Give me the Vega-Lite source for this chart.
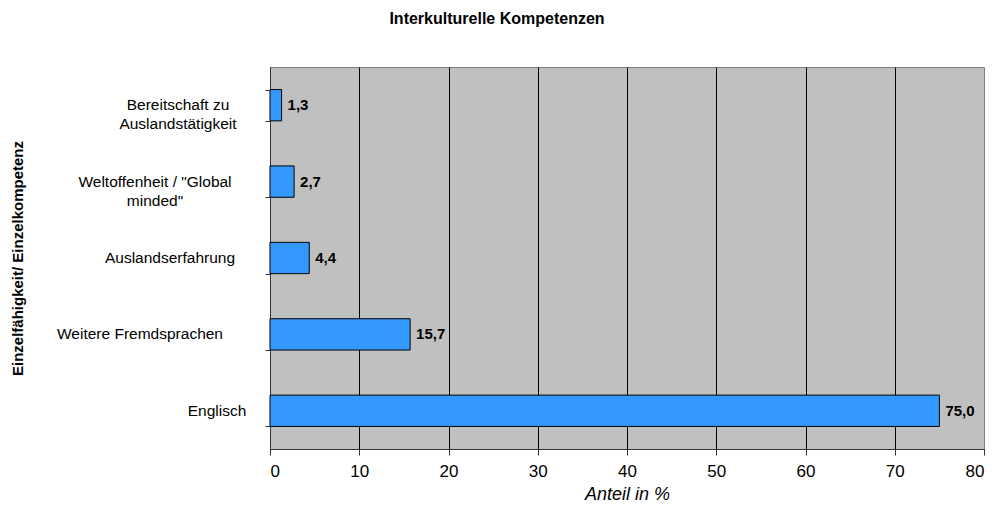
{
  "$schema": "https://vega.github.io/schema/vega-lite/v6.json",
  "width": 714,
  "height": 382,
  "autosize": "none",
  "padding": {"left": 270, "top": 67, "right": 14, "bottom": 64},
  "background": "white",
  "config": {
    "view": {"fill": "#C0C0C0", "stroke": "#808080", "strokeWidth": 1},
    "font": "Liberation Sans",
    "locale": {"number": {"decimal": ",", "thousands": ".", "grouping": [3], "currency": ["", " €"]}}
  },
  "title": {
    "text": "Interkulturelle Kompetenzen",
    "font": "Liberation Sans",
    "fontSize": 16,
    "fontWeight": "bold",
    "color": "black",
    "anchor": "middle",
    "dx": -130,
    "offset": 40
  },
  "data": {
    "values": [
      {"kompetenz": "Bereitschaft zu Auslandstätigkeit", "anteil": 1.3},
      {"kompetenz": "Weltoffenheit / \"Global minded\"", "anteil": 2.7},
      {"kompetenz": "Auslandserfahrung", "anteil": 4.4},
      {"kompetenz": "Weitere Fremdsprachen", "anteil": 15.7},
      {"kompetenz": "Englisch", "anteil": 75.0}
    ]
  },
  "encoding": {
    "y": {
      "field": "kompetenz",
      "type": "nominal",
      "sort": null,
      "scale": {"paddingInner": 0.59, "paddingOuter": 0.295},
      "axis": {
        "title": "Einzelfähigkeit/ Einzelkompetenz",
        "titleFont": "Liberation Sans",
        "titleFontSize": 15,
        "titleFontWeight": "bold",
        "titleColor": "black",
        "titleX": -253,
        "titleBaseline": "middle",
        "tickBand": "extent",
        "grid": false,
        "domainColor": "#333333",
        "tickColor": "#333333",
        "tickSize": 5,
        "labels": false
      }
    }
  },
  "layer": [
    {
      "mark": {"type": "bar", "color": "#3399FF", "stroke": "black", "strokeWidth": 1},
      "encoding": {
        "x": {
          "field": "anteil",
          "type": "quantitative",
          "scale": {"domain": [0, 80], "nice": false},
          "axis": {
            "title": "Anteil in %",
            "titleFont": "Liberation Sans",
            "titleFontSize": 18,
            "titleFontStyle": "italic",
            "titleFontWeight": "normal",
            "titleColor": "black",
            "titlePadding": 6,
            "values": [0, 10, 20, 30, 40, 50, 60, 70, 80],
            "format": "d",
            "labelFontSize": 17,
            "labelColor": "black",
            "labelPadding": 8,
            "tickSize": 6,
            "tickColor": "#333333",
            "domainColor": "#333333",
            "grid": true,
            "gridColor": {"condition": {"test": "datum.value == 80", "value": "#808080"}, "value": "black"},
            "gridOpacity": 1
          }
        }
      }
    },
    {
      "mark": {"type": "text", "align": "left", "dx": 6, "fontWeight": "bold", "fontSize": 15, "color": "black", "font": "Liberation Sans"},
      "encoding": {
        "x": {"field": "anteil", "type": "quantitative"},
        "text": {"field": "anteil", "type": "quantitative", "format": ".1f"}
      }
    },
    {
      "transform": [{"filter": "datum.kompetenz == 'Bereitschaft zu Auslandstätigkeit'"}],
      "mark": {"type": "text", "align": "center", "baseline": "middle", "dx": -92, "fontSize": 15.5, "lineHeight": 19, "color": "black", "font": "Liberation Sans"},
      "encoding": {
        "x": {"datum": 0, "type": "quantitative"},
        "text": {"value": ["Bereitschaft zu", "Auslandstätigkeit"]}
      }
    },
    {
      "transform": [{"filter": "datum.kompetenz == 'Weltoffenheit / \"Global minded\"'"}],
      "mark": {"type": "text", "align": "center", "baseline": "middle", "dx": -115, "fontSize": 15.5, "lineHeight": 19, "color": "black", "font": "Liberation Sans"},
      "encoding": {
        "x": {"datum": 0, "type": "quantitative"},
        "text": {"value": ["Weltoffenheit / \"Global", "minded\""]}
      }
    },
    {
      "transform": [{"filter": "datum.kompetenz == 'Auslandserfahrung'"}],
      "mark": {"type": "text", "align": "center", "baseline": "middle", "dx": -100, "fontSize": 15.5, "color": "black", "font": "Liberation Sans"},
      "encoding": {
        "x": {"datum": 0, "type": "quantitative"},
        "text": {"field": "kompetenz"}
      }
    },
    {
      "transform": [{"filter": "datum.kompetenz == 'Weitere Fremdsprachen'"}],
      "mark": {"type": "text", "align": "center", "baseline": "middle", "dx": -130, "fontSize": 15.5, "color": "black", "font": "Liberation Sans"},
      "encoding": {
        "x": {"datum": 0, "type": "quantitative"},
        "text": {"field": "kompetenz"}
      }
    },
    {
      "transform": [{"filter": "datum.kompetenz == 'Englisch'"}],
      "mark": {"type": "text", "align": "center", "baseline": "middle", "dx": -53, "fontSize": 15.5, "color": "black", "font": "Liberation Sans"},
      "encoding": {
        "x": {"datum": 0, "type": "quantitative"},
        "text": {"field": "kompetenz"}
      }
    }
  ]
}
